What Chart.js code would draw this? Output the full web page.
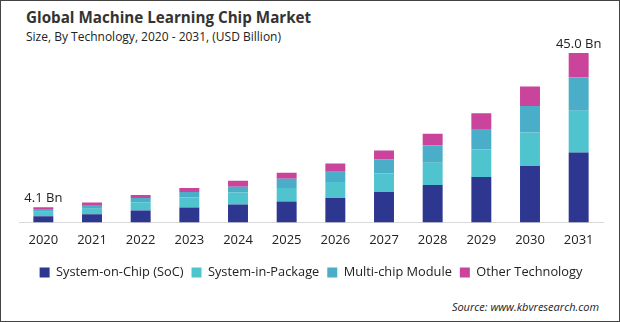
<!DOCTYPE html>
<html>
<head>
<meta charset="utf-8">
<script src="https://cdn.jsdelivr.net/npm/chart.js@4/dist/chart.umd.min.js"></script>
<style>
  html, body { margin: 0; padding: 0; background: #fff; }
  #frame { position: relative; width: 620px; height: 322px; box-sizing: border-box; border: 1px solid #444; overflow: hidden; font-family: "Open Sans", sans-serif; }
  #title { position: absolute; left: 25px; top: 6px; font-size: 15.2px; font-weight: bold; color: #333; }
  #subtitle { position: absolute; left: 25px; top: 27px; font-size: 12px; color: #222; }
  #source { position: absolute; right: 20px; top: 298px; font-size: 11px; font-style: italic; color: #222; }
  #wrap { position: absolute; left: 0; top: 28px; width: 618px; height: 261px; }
</style>
</head>
<body>
<div id="frame">
  <div id="title">Global Machine Learning Chip Market</div>
  <div id="subtitle">Size, By Technology, 2020 - 2031, (USD Billion)</div>
  <div id="wrap"><canvas id="c"></canvas></div>
  <div id="source">Source: www.kbvresearch.com</div>
</div>
<script>
const years = ["2020","2021","2022","2023","2024","2025","2026","2027","2028","2029","2030","2031"];
const seriesNames = ["System-on-Chip (SoC)", "System-in-Package", "Multi-chip Module", "Other Technology"];
const soc   = [1.7, 2.2, 3.2, 4.0, 4.8, 5.6, 6.5, 8.1, 10.0, 12.1, 15.0, 18.6];
const sip   = [1.2, 1.5, 2.2, 2.7, 3.2, 3.6, 4.3, 4.9, 5.9, 7.3, 8.9, 11.1];
const mcm   = [0.7, 1.0, 1.1, 1.4, 1.5, 2.4, 2.7, 3.8, 4.6, 5.4, 7.0, 8.8];
const other = [0.5, 0.6, 0.8, 1.1, 1.6, 1.6, 2.2, 2.3, 3.1, 4.2, 5.2, 6.5];
const totalLabels = {0: "4.1 Bn", 11: "45.0 Bn"};

const colors = ["#2e3790", "#4fc4cf", "#4aaec9", "#c9449a"];
const values = [soc, sip, mcm, other];

const totalsPlugin = {
  id: "totals",
  afterDatasetsDraw(chart) {
    const ctx = chart.ctx;
    const x = chart.scales.x, y = chart.scales.y;
    ctx.save();
    ctx.font = "13px 'Open Sans', sans-serif";
    ctx.fillStyle = "#222";
    ctx.textAlign = "center";
    ctx.textBaseline = "bottom";
    Object.keys(totalLabels).forEach(k => {
      const i = +k;
      const total = soc[i] + sip[i] + mcm[i] + other[i];
      ctx.fillText(totalLabels[k], x.getPixelForValue(i), y.getPixelForValue(total) - 2);
    });
    ctx.restore();
  }
};

new Chart(document.getElementById("c"), {
  type: "bar",
  data: {
    labels: years,
    datasets: values.map((v, i) => ({
      label: seriesNames[i],
      data: v,
      backgroundColor: colors[i],
      borderWidth: 0,
      categoryPercentage: 1,
      barPercentage: 0.41
    }))
  },
  options: {
    responsive: true,
    maintainAspectRatio: false,
    animation: false,
    events: [],
    layout: { padding: { left: 18, right: 16, top: 20, bottom: 1 } },
    scales: {
      x: {
        stacked: true,
        grid: { display: false, drawTicks: false },
        border: { display: true, color: "#d9d9d9", width: 1 },
        ticks: { color: "#222", font: { size: 13, family: "'Open Sans', sans-serif" }, padding: 10 }
      },
      y: {
        stacked: true,
        display: false,
        min: 0,
        max: 46.05
      }
    },
    plugins: {
      legend: {
        position: "bottom",
        labels: {
          boxWidth: 10, boxHeight: 10, padding: 8,
          color: "#222",
          font: { size: 12.8, family: "'Open Sans', sans-serif" }
        }
      },
      tooltip: { enabled: false }
    }
  },
  plugins: [totalsPlugin]
});
</script>
</body>
</html>
